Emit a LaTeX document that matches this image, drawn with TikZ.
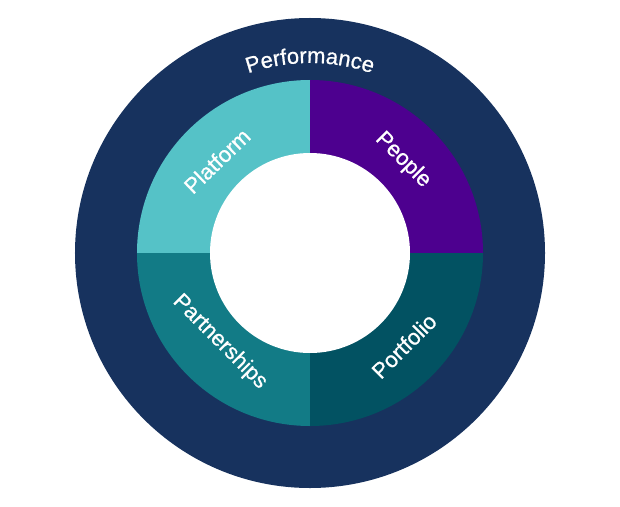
\documentclass[tikz,border=0pt]{standalone}
\usepackage{fontspec}
\setmainfont{Liberation Sans}
\newfontfamily\lblfont{Liberation Sans}[FakeBold=0.7]
\usetikzlibrary{decorations.text}
\definecolor{navy}{HTML}{17325E}
\definecolor{ltteal}{HTML}{55C2C7}
\definecolor{purp}{HTML}{4D008F}
\definecolor{midteal}{HTML}{127B86}
\definecolor{dkteal}{HTML}{025262}
\begin{document}
\begin{tikzpicture}[x=1pt,y=1pt,
  lbl/.style={text=white,font=\lblfont\fontsize{22}{26}\selectfont,inner sep=0pt}]
\useasboundingbox (-310,-253) rectangle (310,253);
\fill[navy] (0,0) circle (235);
\fill[ltteal] (0,0) -- (0,173) arc (90:180:173) -- cycle;
\fill[purp] (0,0) -- (173,0) arc (0:90:173) -- cycle;
\fill[midteal] (0,0) -- (-173,0) arc (180:270:173) -- cycle;
\fill[dkteal] (0,0) -- (0,-173) arc (270:360:173) -- cycle;
\fill[white] (0,0) circle (100);
\node[lbl,rotate=44] (platform) at (-93,92) {Platform};
\node[lbl,rotate=-45] (people) at (93,93) {People};
\node[lbl,rotate=-45] (partnerships) at (-90,-89) {Partnerships};
\node[lbl,rotate=45] (portfolio) at (94,-93) {Portfolio};
\coordinate (perfstart) at (117:190);
\path[decorate,decoration={text along path,text align=center,
  text={|\lblfont\fontsize{22}{26}\selectfont\color{white}|Performance}}]
  (perfstart) arc (117:63:190);
\end{tikzpicture}
\end{document}
